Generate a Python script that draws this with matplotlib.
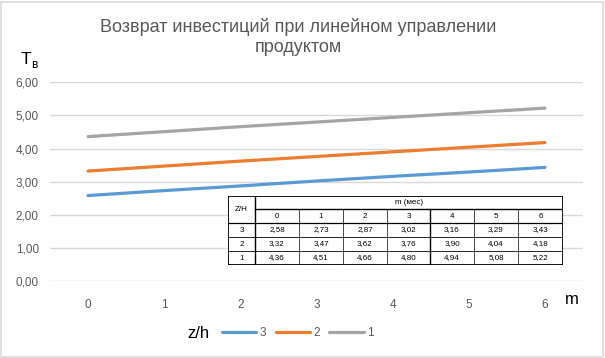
import matplotlib.pyplot as plt
from matplotlib.lines import Line2D
from matplotlib.patches import Rectangle

plt.rcParams['font.family'] = ['Liberation Sans', 'DejaVu Sans']

# data
months = [0, 1, 2, 3, 4, 5, 6]
series_names = ['3', '2', '1']
tv_3 = [2.58, 2.73, 2.87, 3.02, 3.16, 3.29, 3.43]
tv_2 = [3.32, 3.47, 3.62, 3.76, 3.90, 4.04, 4.18]
tv_1 = [4.36, 4.51, 4.66, 4.80, 4.94, 5.08, 5.22]
colors = ['#5B9BD5', '#ED7D31', '#A5A5A5']
yticks = [0, 1, 2, 3, 4, 5, 6]

W, H = 605, 358
fig = plt.figure(figsize=(W / 100, H / 100), dpi=100)
fig.patch.set_facecolor('white')
fig.add_artist(Rectangle((1 / W, 1 / H), 1 - 3 / W, 1 - 3 / H, transform=fig.transFigure,
                         fill=False, edgecolor='#D9D9D9', lw=1.2))

ax = fig.add_axes([50 / W, 1 - 281 / H, 533 / W, (281 - 82.3) / H])
for vals, c, name in zip([tv_3, tv_2, tv_1], colors, series_names):
    ax.plot(months, vals, color=c, lw=2.3, solid_capstyle='round', label=name)

ax.set_xlim(-0.5, 6.5)
ax.set_ylim(0, 6)
ax.set_yticks(yticks)
ax.set_yticklabels([f'{v:.2f}'.replace('.', ',') for v in yticks])
ax.set_xticks(months)
ax.set_xticklabels([str(m) for m in months])
ax.tick_params(length=0, labelsize=8.5, labelcolor='#595959', pad=13)
ax.tick_params(axis='y', pad=8)
ax.get_xticklabels()[-1].set_x(5.85)
ax.grid(axis='y', color='#D9D9D9', lw=1)
for s in ax.spines.values():
    s.set_visible(False)

fig.text(298 / W, 1 - 27 / H, 'Возврат инвестиций при линейном управлении', ha='center',
         va='center', fontsize=13, color='#595959')
fig.text(298 / W, 1 - 48 / H, 'продуктом', ha='center', va='center', fontsize=13,
         color='#595959')
fig.text(21 / W, 1 - 60 / H, 'Т', ha='left', va='center', fontsize=12.5, color='black')
fig.text(31 / W, 1 - 65 / H, 'в', ha='left', va='center', fontsize=8.5, color='black')
fig.text(572 / W, 1 - 299 / H, 'm', ha='center', va='center', fontsize=12, color='black')

# legend
fig.text(198 / W, 1 - 333 / H, 'z/h', ha='center', va='center', fontsize=12, color='black')
handles = [Line2D([], [], color=c, lw=2.3, solid_capstyle='round') for c in colors]
fig.legend(handles, series_names, loc='center left', bbox_to_anchor=(222 / W, 1 - 333 / H),
           ncol=3, frameon=False, fontsize=8.5, handlelength=2.9, handletextpad=0.3,
           columnspacing=0.8, labelcolor='#595959', borderaxespad=0, borderpad=0)

# data table
tax = fig.add_axes([228 / W, 1 - 265 / H, 335 / W, 69 / H])
tax.set_xlim(0, 335)
tax.set_ylim(69, 0)
tax.axis('off')
tax.add_patch(Rectangle((0, 0), 335, 69, facecolor='white', edgecolor='black', lw=1.3))
col_x = [0, 27, 71, 115, 159, 202, 246, 290, 335]
row_y = [0, 13, 27, 41, 55, 69]
# horizontal lines
tax.plot([27, 335], [row_y[1]] * 2, color='black', lw=1.0)
for y in row_y[2:-1]:
    tax.plot([0, 335], [y, y], color='black', lw=0.6 if y != row_y[2] else 0.9)
# vertical lines
for i, x in enumerate(col_x[1:-1], start=1):
    y0 = 0 if i == 1 else row_y[1]
    tax.plot([x, x], [y0, 69], color='black', lw=1.0 if i in (1, 5) else 0.5)
fs = 5.8
tax.text(13.5, row_y[2] / 2, 'Z/H', ha='center', va='center', fontsize=fs)
tax.text((27 + 335) / 2, row_y[1] / 2, 'm (мес)', ha='center', va='center', fontsize=fs)
for j, m in enumerate(months):
    tax.text((col_x[j + 1] + col_x[j + 2]) / 2, (row_y[1] + row_y[2]) / 2, str(m),
             ha='center', va='center', fontsize=fs)
for r, (name, vals) in enumerate(zip(series_names, [tv_3, tv_2, tv_1])):
    yc = (row_y[r + 2] + row_y[r + 3]) / 2
    tax.text(13.5, yc, name, ha='center', va='center', fontsize=fs)
    for j, v in enumerate(vals):
        tax.text((col_x[j + 1] + col_x[j + 2]) / 2, yc, f'{v:.2f}'.replace('.', ','),
                 ha='center', va='center', fontsize=fs)

fig.savefig('out.png', dpi=100)
